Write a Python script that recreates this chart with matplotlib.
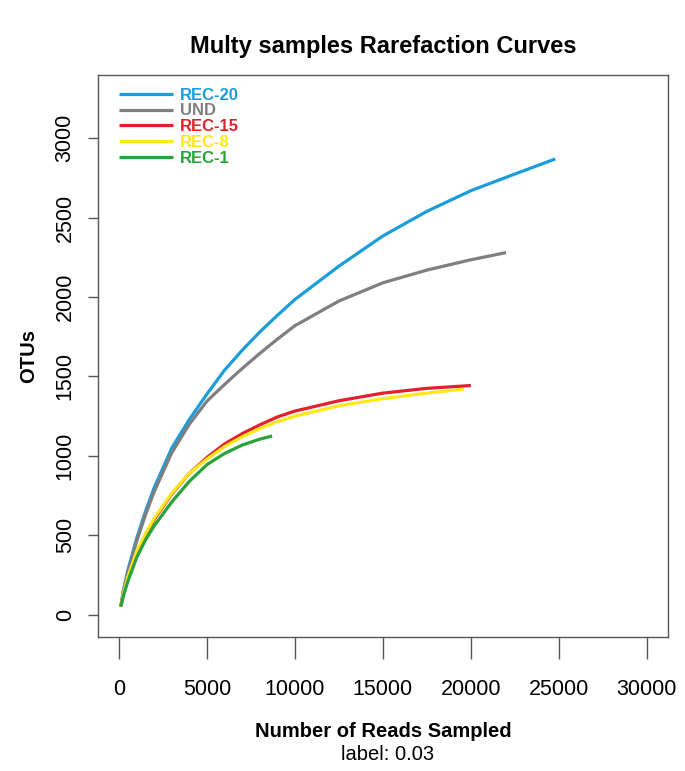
import matplotlib
matplotlib.use("Agg")
import matplotlib.pyplot as plt

plt.rcParams['font.family'] = ['Liberation Sans', 'DejaVu Sans']

# rarefaction curves (reads sampled, OTUs)
rec20_x = [100, 250, 500, 1000, 1500, 2000, 3000, 4000, 5000, 6000, 7000, 8000,
           9000, 10000, 12500, 15000, 17500, 20000, 22500, 24800]
rec20_y = [50, 155, 280, 480, 650, 800, 1050, 1230, 1390, 1540, 1665, 1780,
           1885, 1985, 2195, 2385, 2540, 2670, 2775, 2870]

und_x = [100, 250, 500, 1000, 1500, 2000, 3000, 4000, 5000, 6000, 7000, 8000,
         9000, 10000, 12500, 15000, 17500, 20000, 22000]
und_y = [50, 148, 268, 462, 628, 775, 1020, 1200, 1345, 1450, 1550, 1645,
         1735, 1820, 1975, 2090, 2170, 2235, 2280]

rec15_x = [100, 250, 500, 1000, 1500, 2000, 3000, 4000, 5000, 6000, 7000, 8000,
           9000, 10000, 12500, 15000, 17500, 20000]
rec15_y = [50, 130, 230, 390, 500, 600, 760, 890, 990, 1075, 1140, 1195,
           1245, 1282, 1347, 1395, 1425, 1443]

rec8_x = [100, 250, 500, 1000, 1500, 2000, 3000, 4000, 5000, 6000, 7000, 8000,
          9000, 10000, 12500, 15000, 17500, 19600]
rec8_y = [50, 135, 238, 398, 510, 608, 765, 890, 980, 1058, 1120, 1172,
          1215, 1250, 1315, 1360, 1395, 1420]

rec1_x = [100, 250, 500, 1000, 1500, 2000, 3000, 4000, 5000, 6000, 7000, 8000, 8700]
rec1_y = [50, 120, 210, 360, 470, 560, 710, 840, 945, 1015, 1068, 1105, 1125]

names = ["REC-20", "UND", "REC-15", "REC-8", "REC-1"]
colors = ["#1c9ddb", "#7f7f7f", "#e3202b", "#ffe81a", "#27a33a"]
series = [(rec20_x, rec20_y), (und_x, und_y), (rec15_x, rec15_y),
          (rec8_x, rec8_y), (rec1_x, rec1_y)]

xticks = [0, 5000, 10000, 15000, 20000, 25000, 30000]
xticklabels = ["0", "5000", "10000", "15000", "20000", "25000", "30000"]
yticks = [0, 500, 1000, 1500, 2000, 2500, 3000]

fig = plt.figure(figsize=(6.85, 7.71), dpi=100)
ax = fig.add_axes([0.143, 0.174, 0.832, 0.729])

for (xs, ys), name, c in zip(series, names, colors):
    ax.plot(xs, ys, color=c, lw=2.3, label=name, solid_capstyle='butt',
            solid_joinstyle='round')

ax.set_xlim(-1200, 31200)
ax.set_ylim(-140, 3400)
ax.set_xticks(xticks)
ax.set_xticklabels(xticklabels)
ax.set_yticks(yticks)
ax.set_yticklabels([str(v) for v in yticks], rotation=90, va='center')

for s in ax.spines.values():
    s.set_color('#555555')
    s.set_linewidth(1.0)
ax.tick_params(axis='x', length=16, width=1, color='#555555', pad=14, labelsize=15.5)
ax.tick_params(axis='y', length=7, width=1, color='#555555', pad=9, labelsize=15.5)

ax.set_title("Multy samples Rarefaction Curves", fontsize=17, fontweight='bold', pad=16)
ax.set_ylabel("OTUs", fontsize=14.5, fontweight='bold', labelpad=12)
ax.set_xlabel("Number of Reads Sampled", fontsize=14.5, fontweight='bold', labelpad=16)
fig.text(0.5655, 0.0215, "label: 0.03", fontsize=14.5, ha='center', va='center')

leg = ax.legend(loc='upper left', bbox_to_anchor=(0.02, 0.995), frameon=False,
                labelcolor='linecolor', prop={'weight': 'bold', 'size': 12},
                handlelength=3.2, handletextpad=0.45, labelspacing=0.05,
                borderaxespad=0.2)

fig.savefig("out.png", dpi=100)
